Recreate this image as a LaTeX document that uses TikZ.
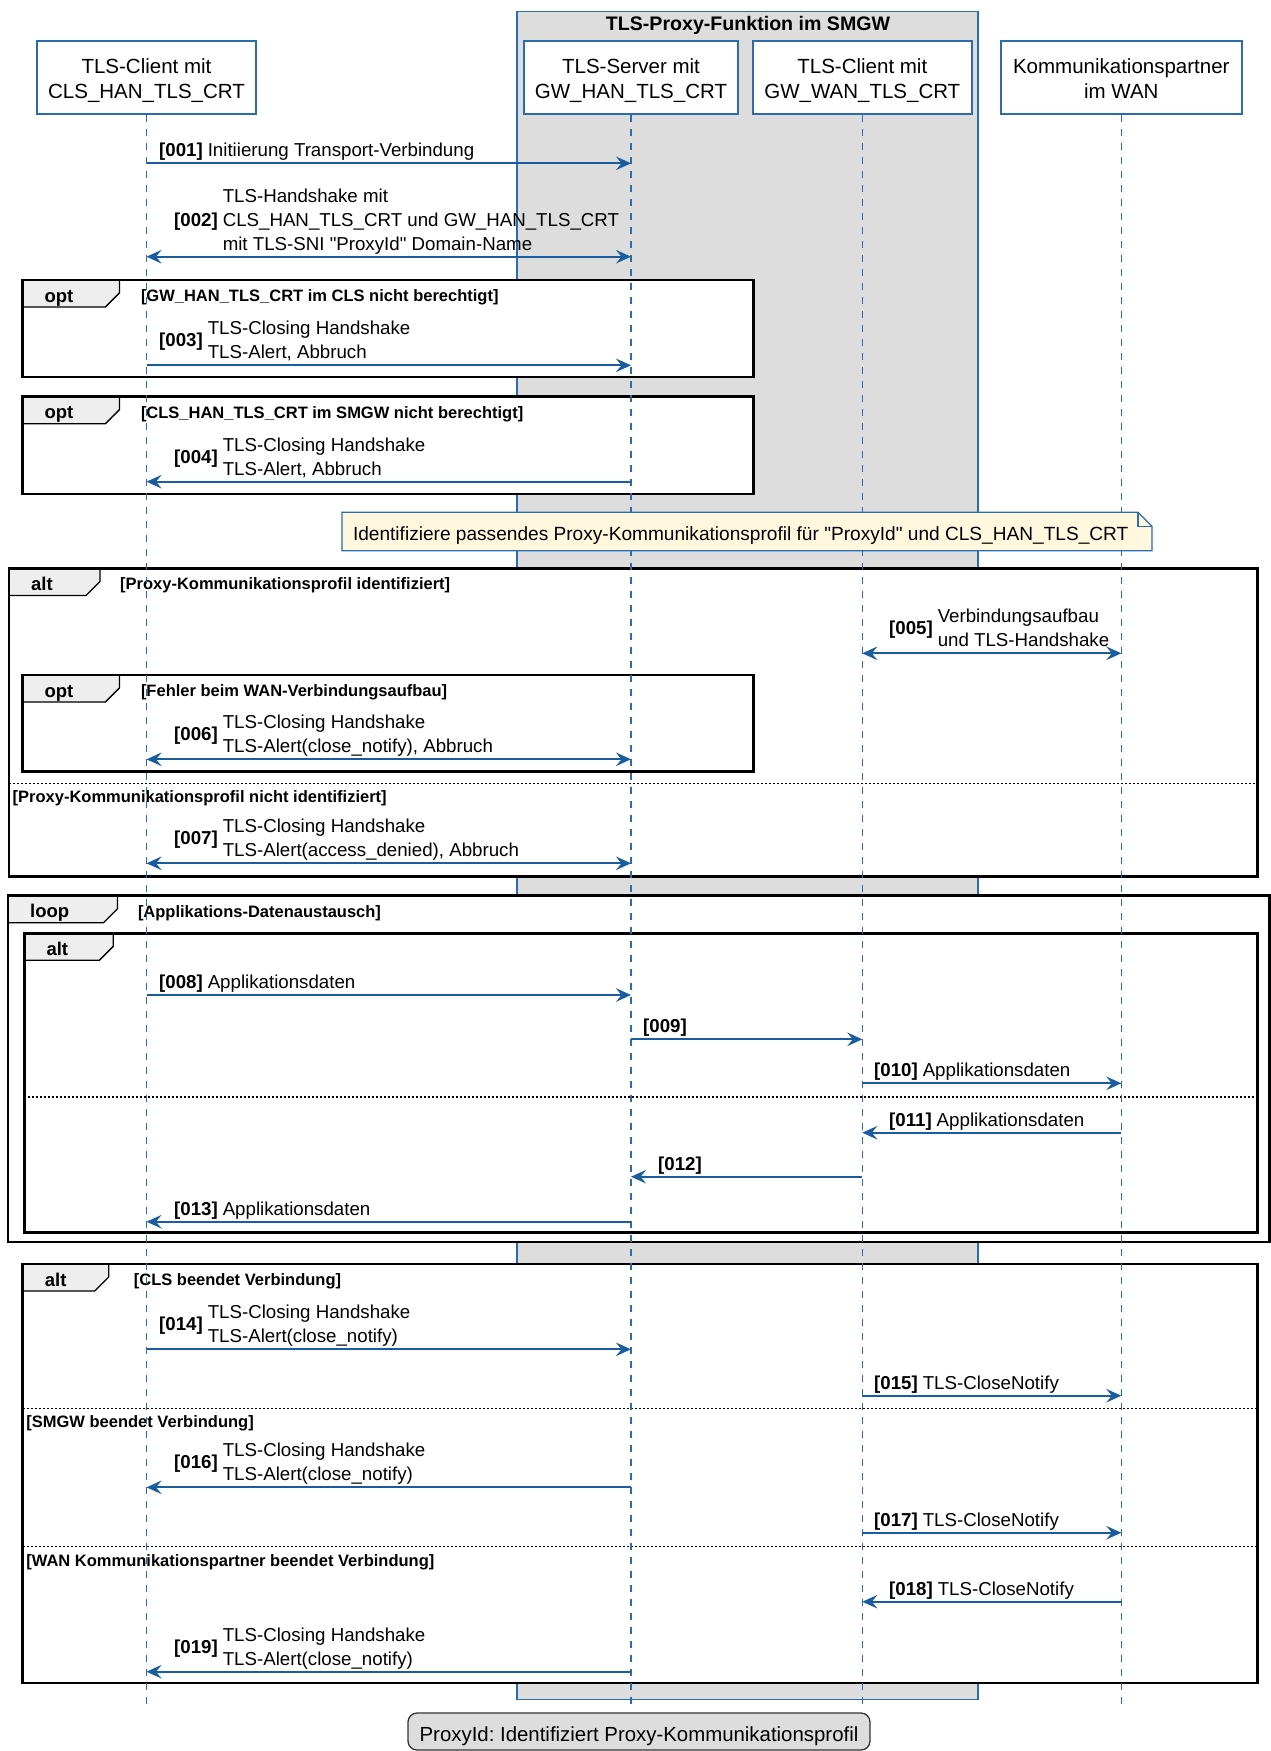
\documentclass[tikz,border=0pt]{standalone}
\usepackage{fontspec}
\setmainfont{Liberation Sans}[Ligatures=TeXOff]
\usetikzlibrary{arrows.meta}
\frenchspacing

\definecolor{lineblue}{RGB}{44,108,172}
\definecolor{arrowblue}{RGB}{26,92,160}
\definecolor{groupgray}{RGB}{221,221,221}
\definecolor{tabgray}{RGB}{238,238,238}
\definecolor{notefill}{RGB}{255,248,222}
\definecolor{legendgray}{RGB}{221,221,221}

\newcommand\fs[2]{\fontsize{#1}{#2}\selectfont}
\newcommand\mlines[1]{\begin{tabular}[t]{@{}l@{}}#1\end{tabular}}
\newcommand\clines[1]{\begin{tabular}[t]{@{}c@{}}#1\end{tabular}}

% combined fragment: name, x0, y0, x1, y1, kind, tab width, guard x, guard
\newcommand\seqfrag[9]{%
  \fill[white] (#2,#3) rectangle (#4,#5);
  \draw[fragtab] (#2,#3) -- (#2+#7,#3) -- (#2+#7,#3+13) -- (#2+#7-14,#3+27) -- (#2,#3+27) -- cycle;
  \draw[fragbox] (#2,#3) rectangle (#4,#5);
  \node[fraglabel] (#1-kind) at (#2+22,#3+15.5) {#6};
  \node[guard] (#1-guard) at (#8,#3+15.5) {#9};
}
% else separator: name, x0, x1, y, guard
\newcommand\seqelse[5]{%
  \draw[elseline] (#2,#4) -- (#3,#4);
  \node[guard] (#1) at (#2+3.5,#4+13.4) {#5};
}

\begin{document}
\begin{tikzpicture}[x=1pt,y=-1pt,
  partbox/.style={draw=lineblue, line width=2pt, fill=white, minimum height=73pt, inner sep=0pt},
  parttext/.style={font=\fs{20.5}{25}, anchor=base, inner sep=0pt},
  groupbox/.style={draw=lineblue, line width=1.4pt, fill=groupgray},
  grouptitle/.style={font=\fs{19.6}{22}\bfseries, inner sep=0pt, text height=14pt, text depth=0pt},
  lifeline/.style={draw=lineblue, line width=1.3pt, dash pattern=on 7pt off 7pt},
  msgline/.style={draw=arrowblue, line width=1.8pt},
  tipR/.style={-{Stealth[length=15pt,width=13.5pt,inset=5.5pt]}},
  tipB/.style={{Stealth[length=15pt,width=13.5pt,inset=5.5pt]}-{Stealth[length=15pt,width=13.5pt,inset=5.5pt]}},
  num/.style={font=\fs{18.7}{24}\bfseries, anchor=base west, inner sep=0pt},
  msgtext/.style={font=\fs{18.7}{24}, anchor=base west, inner sep=0pt},
  fragbox/.style={draw=black, line width=2.6pt},
  fragtab/.style={draw=black, line width=1.3pt, fill=tabgray},
  fraglabel/.style={font=\fs{18.5}{22}\bfseries, anchor=west, inner sep=0pt, text height=13.2pt, text depth=0pt},
  guard/.style={font=\fs{16.5}{20}\bfseries, anchor=west, inner sep=0pt, text height=11.8pt, text depth=0pt},
  elseline/.style={draw=black, line width=1.2pt, dash pattern=on 2pt off 2pt},
  notebox/.style={draw=lineblue, line width=1.2pt, fill=notefill},
  notetext/.style={font=\fs{19.1}{24}, anchor=west, inner sep=0pt, text height=13.7pt, text depth=0pt},
  legend/.style={draw=black!80, line width=1.3pt, fill=legendgray, rounded corners=9pt,
    minimum width=462pt, minimum height=37pt, inner sep=0pt, font=\fs{20.4}{24},
    text height=20.6pt, text depth=0pt}
]
\useasboundingbox (0,0) rectangle (1271,1751);
\fill[white] (0,0) rectangle (1271,1751);

% proxy group in the gateway
\draw[groupbox] (517,11.5) rectangle (978,1699.5);
\node[grouptitle] (grp) at (748,23.5) {TLS-Proxy-Funktion im SMGW};

% participants
\node[partbox, minimum width=219pt] (p1) at (146.5,77.5) {};
\node[parttext] (p1-name) at (146.5,73) {\clines{TLS-Client mit\\CLS\_HAN\_TLS\_CRT}};
\node[partbox, minimum width=214pt] (p2) at (631,77.5) {};
\node[parttext] (p2-name) at (631,73) {\clines{TLS-Server mit\\GW\_HAN\_TLS\_CRT}};
\node[partbox, minimum width=219pt] (p3) at (862.3,77.5) {};
\node[parttext] (p3-name) at (862.3,73) {\clines{TLS-Client mit\\GW\_WAN\_TLS\_CRT}};
\node[partbox, minimum width=241pt] (p4) at (1121.3,77.5) {};
\node[parttext] (p4-name) at (1121.3,73) {\clines{Kommunikationspartner\\im WAN}};

% fragments
\seqfrag{optA}{22.4}{280}{753.5}{377}{opt}{97}{140.8}{[GW\_HAN\_TLS\_CRT im CLS nicht berechtigt]}
\seqfrag{optB}{22.4}{396.7}{753.5}{494}{opt}{97}{140.8}{[CLS\_HAN\_TLS\_CRT im SMGW nicht berechtigt]}
\seqfrag{altA}{9}{568.5}{1257.5}{876.5}{alt}{91}{120}{[Proxy-Kommunikationsprofil identifiziert]}
\seqfrag{optC}{22.4}{675}{753.5}{771.7}{opt}{97}{140.8}{[Fehler beim WAN-Verbindungsaufbau]}
\seqelse{altA-else}{9}{1257.5}{783.3}{[Proxy-Kommunikationsprofil nicht identifiziert]}
\seqfrag{loopA}{8}{895.7}{1269.5}{1242}{loop}{109.5}{137.8}{[Applikations-Datenaustausch]}
\seqfrag{altB}{24.3}{933.3}{1257.7}{1232.7}{alt}{89}{140}{}
\seqelse{altB-else}{24.3}{1257.7}{1097}{}
\seqfrag{altC}{22.7}{1264}{1257.7}{1683}{alt}{86}{133.7}{[CLS beendet Verbindung]}
\seqelse{altC-else1}{22.7}{1257.7}{1408.3}{[SMGW beendet Verbindung]}
\seqelse{altC-else2}{22.7}{1257.7}{1546.7}{[WAN Kommunikationspartner beendet Verbindung]}

% lifelines
\foreach \p in {p1,p2,p3,p4}
  \draw[lifeline] (\p.south) -- (\p.south |- 0,1708);

% note
\draw[notebox] (342,512.3) -- (1138,512.3) -- (1152,526.3) -- (1152,550.7) -- (342,550.7) -- cycle;
\draw[notebox, fill=none] (1138,512.3) -- (1138,526.3) -- (1152,526.3);
\node[notetext] (note) at (352.8,533.3) {Identifiziere passendes Proxy-Kommunikationsprofil für "ProxyId" und CLS\_HAN\_TLS\_CRT};

% messages
\draw[msgline, tipR] (p1 |- 0,163.3) -- (p2 |- 0,163.3);
\node[num] (n001) at (159,156.8) {[001]};
\node[msgtext] (m001) at ([xshift=4.5pt]n001.base east) {Initiierung Transport-Verbindung};

\draw[msgline, tipB] (p1 |- 0,256.7) -- (p2 |- 0,256.7);
\node[num] (n002) at (174,226.2) {[002]};
\node[msgtext] (m002) at ([shift={(4.5,-24)}]n002.base east) {\mlines{TLS-Handshake mit\\CLS\_HAN\_TLS\_CRT und GW\_HAN\_TLS\_CRT\\mit TLS-SNI "ProxyId" Domain-Name}};

\draw[msgline, tipR] (p1 |- 0,365.3) -- (p2 |- 0,365.3);
\node[num] (n003) at (159,346.8) {[003]};
\node[msgtext] (m003) at ([shift={(4.5,-12)}]n003.base east) {\mlines{TLS-Closing Handshake\\TLS-Alert, Abbruch}};

\draw[msgline, tipR] (p2 |- 0,481.7) -- (p1 |- 0,481.7);
\node[num] (n004) at (174,463.2) {[004]};
\node[msgtext] (m004) at ([shift={(4.5,-12)}]n004.base east) {\mlines{TLS-Closing Handshake\\TLS-Alert, Abbruch}};

\draw[msgline, tipB] (p3 |- 0,653.3) -- (p4 |- 0,653.3);
\node[num] (n005) at (889,634.8) {[005]};
\node[msgtext] (m005) at ([shift={(4.5,-12)}]n005.base east) {\mlines{Verbindungsaufbau\\und TLS-Handshake}};

\draw[msgline, tipB] (p1 |- 0,759.3) -- (p2 |- 0,759.3);
\node[num] (n006) at (174,740.8) {[006]};
\node[msgtext] (m006) at ([shift={(4.5,-12)}]n006.base east) {\mlines{TLS-Closing Handshake\\TLS-Alert(close\_notify), Abbruch}};

\draw[msgline, tipB] (p1 |- 0,863.3) -- (p2 |- 0,863.3);
\node[num] (n007) at (174,844.8) {[007]};
\node[msgtext] (m007) at ([shift={(4.5,-12)}]n007.base east) {\mlines{TLS-Closing Handshake\\TLS-Alert(access\_denied), Abbruch}};

\draw[msgline, tipR] (p1 |- 0,995) -- (p2 |- 0,995);
\node[num] (n008) at (159,988.5) {[008]};
\node[msgtext] (m008) at ([xshift=4.5pt]n008.base east) {Applikationsdaten};

\draw[msgline, tipR] (p2 |- 0,1039.3) -- (p3 |- 0,1039.3);
\node[num] (n009) at (643,1032.8) {[009]};

\draw[msgline, tipR] (p3 |- 0,1083.3) -- (p4 |- 0,1083.3);
\node[num] (n010) at (874,1076.8) {[010]};
\node[msgtext] (m010) at ([xshift=4.5pt]n010.base east) {Applikationsdaten};

\draw[msgline, tipR] (p4 |- 0,1132.7) -- (p3 |- 0,1132.7);
\node[num] (n011) at (889,1126.2) {[011]};
\node[msgtext] (m011) at ([xshift=4.5pt]n011.base east) {Applikationsdaten};

\draw[msgline, tipR] (p3 |- 0,1176.7) -- (p2 |- 0,1176.7);
\node[num] (n012) at (658,1170.2) {[012]};

\draw[msgline, tipR] (p2 |- 0,1221.7) -- (p1 |- 0,1221.7);
\node[num] (n013) at (174,1215.2) {[013]};
\node[msgtext] (m013) at ([xshift=4.5pt]n013.base east) {Applikationsdaten};

\draw[msgline, tipR] (p1 |- 0,1349.3) -- (p2 |- 0,1349.3);
\node[num] (n014) at (159,1330.8) {[014]};
\node[msgtext] (m014) at ([shift={(4.5,-12)}]n014.base east) {\mlines{TLS-Closing Handshake\\TLS-Alert(close\_notify)}};

\draw[msgline, tipR] (p3 |- 0,1395.7) -- (p4 |- 0,1395.7);
\node[num] (n015) at (874,1389.2) {[015]};
\node[msgtext] (m015) at ([xshift=4.5pt]n015.base east) {TLS-CloseNotify};

\draw[msgline, tipR] (p2 |- 0,1487.3) -- (p1 |- 0,1487.3);
\node[num] (n016) at (174,1468.8) {[016]};
\node[msgtext] (m016) at ([shift={(4.5,-12)}]n016.base east) {\mlines{TLS-Closing Handshake\\TLS-Alert(close\_notify)}};

\draw[msgline, tipR] (p3 |- 0,1532.7) -- (p4 |- 0,1532.7);
\node[num] (n017) at (874,1526.2) {[017]};
\node[msgtext] (m017) at ([xshift=4.5pt]n017.base east) {TLS-CloseNotify};

\draw[msgline, tipR] (p4 |- 0,1601.7) -- (p3 |- 0,1601.7);
\node[num] (n018) at (889,1595.2) {[018]};
\node[msgtext] (m018) at ([xshift=4.5pt]n018.base east) {TLS-CloseNotify};

\draw[msgline, tipR] (p2 |- 0,1671.7) -- (p1 |- 0,1671.7);
\node[num] (n019) at (174,1653.2) {[019]};
\node[msgtext] (m019) at ([shift={(4.5,-12)}]n019.base east) {\mlines{TLS-Closing Handshake\\TLS-Alert(close\_notify)}};

% legend
\node[legend] (legend) at (639,1731.5) {ProxyId: Identifiziert Proxy-Kommunikationsprofil};
\end{tikzpicture}
\end{document}
